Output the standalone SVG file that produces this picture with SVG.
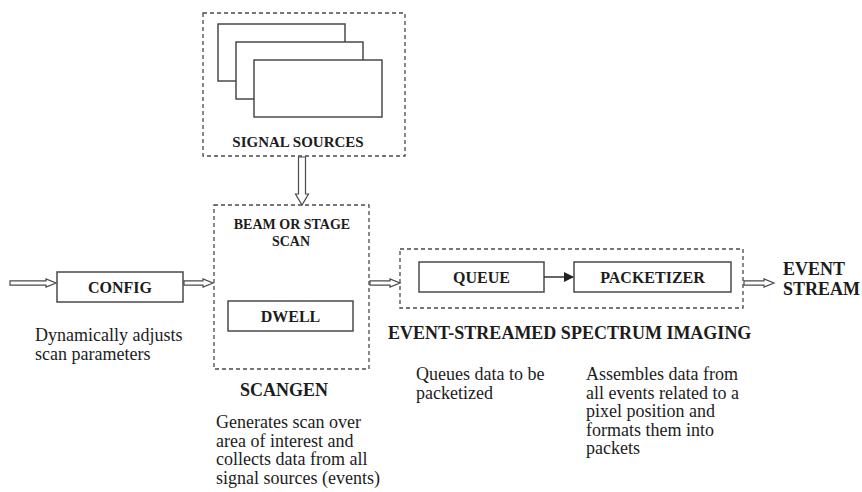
<svg xmlns="http://www.w3.org/2000/svg" width="862" height="492" viewBox="0 0 862 492">
  <defs>
    <style>
      .box { fill: #fff; stroke: #4a4a4a; stroke-width: 1.5; }
      .dash { fill: none; stroke: #4a4a4a; stroke-width: 1.3; stroke-dasharray: 4 3; }
      .harrow { fill: #fff; stroke: #4a4a4a; stroke-width: 1.2; stroke-linejoin: miter; }
      .line { fill: none; stroke: #333; stroke-width: 1.5; }
      text { font-family: "Liberation Serif", "Times New Roman", serif; fill: #1c1c1c; }
      .lbl { font-weight: bold; font-size: 16px; text-anchor: middle; }
      .title { font-weight: bold; font-size: 18px; }
      .body { font-size: 18px; }
    </style>
    <marker id="solidHead" markerWidth="10" markerHeight="10" refX="9" refY="5" orient="auto" markerUnits="userSpaceOnUse">
      <path d="M0,0 L10,5 L0,10 Z" fill="#222"/>
    </marker>
  </defs>

  <rect width="862" height="492" fill="#fff"/>

  <!-- Signal sources: stacked detector panels -->
  <g id="signal-sources">
    <rect class="dash" x="203" y="13" width="202" height="143"/>
    <rect class="box" x="218" y="24" width="127" height="57"/>
    <rect class="box" x="236" y="42" width="127" height="57"/>
    <rect class="box" x="254" y="60" width="128" height="57"/>
    <text class="lbl" x="298" y="147" style="font-size:15px">SIGNAL SOURCES</text>
  </g>

  <!-- Configuration block -->
  <g id="config">
    <rect class="box" x="57" y="272" width="126" height="30"/>
    <text class="lbl" x="120" y="293">CONFIG</text>
    <text class="body" x="35" y="341">Dynamically adjusts</text>
    <text class="body" x="35" y="360">scan parameters</text>
  </g>

  <!-- Scan generator -->
  <g id="scangen">
    <rect class="dash" x="214" y="205" width="155" height="164"/>
    <text class="lbl" x="292" y="229" style="font-size:14px">BEAM OR STAGE</text>
    <text class="lbl" x="291" y="246" style="font-size:14px">SCAN</text>
    <rect class="box" x="228" y="301" width="125" height="30"/>
    <text class="lbl" x="290.5" y="322">DWELL</text>
    <text class="title" x="240" y="396">SCANGEN</text>
    <text class="body" x="216" y="428">Generates scan over</text>
    <text class="body" x="216" y="446.5">area of interest and</text>
    <text class="body" x="216" y="465">collects data from all</text>
    <text class="body" x="216" y="483.5">signal sources (events)</text>
  </g>

  <!-- Event-streamed spectrum imaging -->
  <g id="essi">
    <rect class="dash" x="400" y="249" width="343" height="59"/>
    <text class="title" x="388" y="339">EVENT-STREAMED SPECTRUM IMAGING</text>
  </g>

  <g id="queue">
    <rect class="box" x="419" y="262" width="125" height="30"/>
    <text class="lbl" x="481.5" y="283">QUEUE</text>
    <text class="body" x="416" y="380">Queues data to be</text>
    <text class="body" x="416" y="398.5">packetized</text>
  </g>

  <g id="packetizer">
    <rect class="box" x="574" y="262" width="157" height="30"/>
    <text class="lbl" x="652.5" y="283">PACKETIZER</text>
    <text class="body" x="586" y="380">Assembles data from</text>
    <text class="body" x="586" y="398.5">all events related to a</text>
    <text class="body" x="586" y="417">pixel position and</text>
    <text class="body" x="586" y="435.5">formats them into</text>
    <text class="body" x="586" y="454">packets</text>
  </g>

  <g id="event-stream">
    <text class="title" x="783" y="275">EVENT</text>
    <text class="title" x="783" y="295">STREAM</text>
  </g>

  <!-- Connectors -->
  <g id="connectors">
    <!-- hollow block arrows -->
    <polygon class="harrow" points="10,280.8 46,280.8 46,279 56,283 46,287 46,285.2 10,285.2"/>
    <polygon class="harrow" points="184,280.8 203,280.8 203,279 213,283 203,287 203,285.2 184,285.2"/>
    <polygon class="harrow" points="370,280.8 390,280.8 390,279 400,283 390,287 390,285.2 370,285.2"/>
    <polygon class="harrow" points="744,280.8 764,280.8 764,279 774,283 764,287 764,285.2 744,285.2"/>
    <polygon class="harrow" points="298.5,157 305.5,157 305.5,194 308.5,194 302,205 295.5,194 298.5,194"/>
    <!-- queue to packetizer -->
    <line class="line" x1="544" y1="277" x2="573" y2="277" marker-end="url(#solidHead)"/>
  </g>
</svg>
